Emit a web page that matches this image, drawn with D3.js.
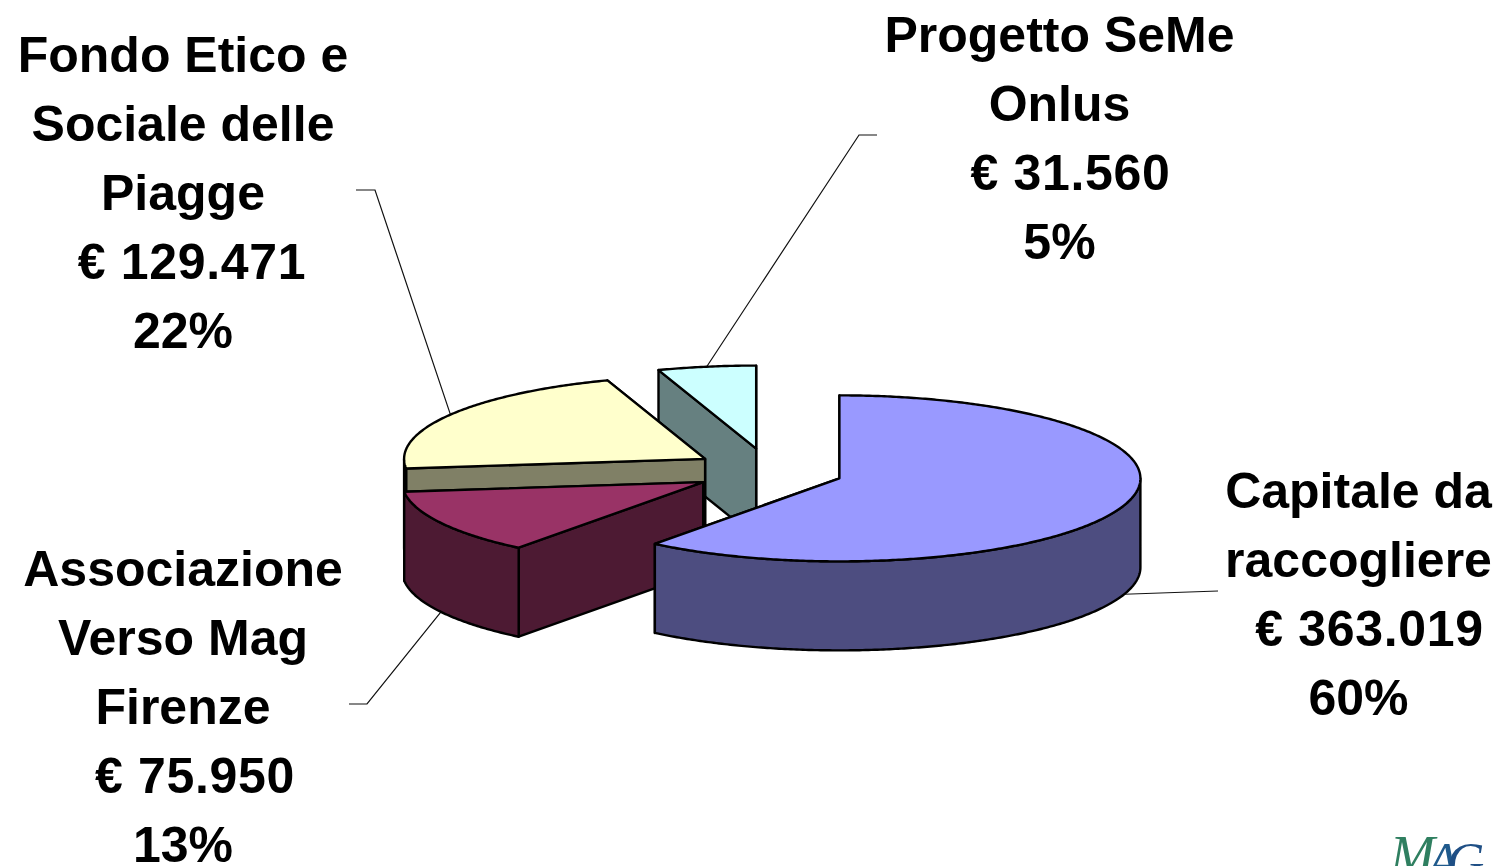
<!DOCTYPE html>
<html>
<head>
<meta charset="utf-8">
<script src="https://cdnjs.cloudflare.com/ajax/libs/d3/7.8.5/d3.min.js"></script>
<style>
html,body{margin:0;padding:0;background:#fff;overflow:hidden}
svg{display:block}
text{font-family:"Liberation Sans",Arial,sans-serif;font-weight:700;font-size:50px;fill:#000}
</style>
</head>
<body>
<svg id="chart" width="1500" height="866"></svg>
<script>
// ---- data ----
const names = [
  ["Capitale da", "raccogliere"],
  ["Associazione", "Verso Mag", "Firenze"],
  ["Fondo Etico e", "Sociale delle", "Piagge"],
  ["Progetto SeMe", "Onlus"]
];
const amounts = [363019, 75950, 129471, 31560];
const percentLabels = ["60%", "13%", "22%", "5%"];
const topColors = ["#9999FF", "#993366", "#FFFFCC", "#CCFFFF"];
const sideColors = ["#4D4D80", "#4D1A33", "#808066", "#668080"];

// ---- layout ----
const W = 1500, H = 866;
const center = {x: 768.5, y: 471}, rx = 301, ry = 83, depth = 89, explode = 0.249, explodeYBoost = 1.1;
const labelPos = [
  {x: 1358.5, y: 508, euroDx: 11, elbow: [1218, 591], end: null},
  {x: 183, y: 586, euroDx: 12, elbow: [367, 704], end: [349, 704]},
  {x: 183, y: 72, euroDx: 9, elbow: [375, 190], end: [356, 190]},
  {x: 1059.5, y: 52, euroDx: 11, elbow: [859, 135], end: [877, 135]}
];
const lineStep = 69.1;

const svg = d3.select("#chart");
const sx = d3.scaleLinear().domain([-1, 1]).range([center.x - rx, center.x + rx]);
const sy = d3.scaleLinear().domain([-1, 1]).range([center.y + ry, center.y - ry]);
const euro = d3.formatLocale({decimal: ",", thousands: ".", grouping: [3], currency: ["€ ", ""]}).format("$,.0f");
const line = d3.line();
const arcs = d3.pie().sort(null).value(d => d)(amounts);

// Project a point on the unit pie (radius r, clockwise angle a) for a slice's explode offset
function proj(s, a, r, drop) {
  const mid = (s.startAngle + s.endAngle) / 2;
  const ux = explode * Math.sin(mid) + r * Math.sin(a);
  const uy = explode * explodeYBoost * Math.cos(mid) + r * Math.cos(a);
  return [sx(ux), sy(uy) + (drop || 0)];
}
function arcPts(s, a0, a1, drop) {
  const n = Math.max(2, Math.ceil((a1 - a0) / 0.01));
  return d3.range(n + 1).map(i => proj(s, a0 + (a1 - a0) * i / n, 1, drop));
}
function face(s, a) {
  return line([proj(s, 0, 0), proj(s, a, 1), proj(s, a, 1, depth), proj(s, 0, 0, depth)]) + "Z";
}

// leader lines first, behind the pie
const leaders = svg.append("g").attr("fill", "none").attr("stroke", "#111").attr("stroke-width", 1.2);
arcs.forEach((s, i) => {
  const mid = (s.startAngle + s.endAngle) / 2;
  const front = Math.cos(mid) < 0;
  const pts = [proj(s, mid, 1, front ? depth : 0), labelPos[i].elbow];
  if (labelPos[i].end) pts.push(labelPos[i].end);
  leaders.append("path").attr("d", line(pts));
});

// slices, back to front
const drawOrder = [3, 2, 1, 0];
const pie = svg.append("g").attr("stroke", "#000").attr("stroke-width", 2.4).attr("stroke-linejoin", "round");
drawOrder.forEach(i => {
  const s = arcs[i];
  const g = pie.append("g");
  g.append("path").attr("d", face(s, s.endAngle)).attr("fill", sideColors[i]);
  g.append("path").attr("d", face(s, s.startAngle)).attr("fill", sideColors[i]);
  const a0 = Math.max(s.startAngle, Math.PI / 2), a1 = Math.min(s.endAngle, 3 * Math.PI / 2);
  if (a1 > a0) {
    const upper = arcPts(s, a0, a1, 0), lower = arcPts(s, a0, a1, depth).reverse();
    g.append("path").attr("d", line(upper.concat(lower)) + "Z").attr("fill", sideColors[i]);
  }
  const top = [proj(s, 0, 0)].concat(arcPts(s, s.startAngle, s.endAngle, 0));
  g.append("path").attr("d", line(top) + "Z").attr("fill", topColors[i]);
});

// labels
arcs.forEach((s, i) => {
  const p = labelPos[i];
  const lines = names[i].map(t => ({t, dx: 0, ls: 0}))
    .concat([{t: euro(amounts[i]), dx: p.euroDx, ls: 0.7}, {t: percentLabels[i], dx: 0, ls: 0}]);
  const t = svg.append("text").attr("text-anchor", "middle");
  lines.forEach((l, k) => {
    t.append("tspan").attr("x", p.x + l.dx).attr("y", p.y + k * lineStep)
      .style("letter-spacing", l.ls + "px").text(l.t);
  });
});

// logo, cropped by the bottom edge as in the reference
const logo = svg.append("text").attr("x", 1390).attr("y", 873)
  .style("font-family", "'Liberation Serif',serif").style("font-style", "italic")
  .style("font-weight", 400).style("font-size", "54px");
logo.append("tspan").style("fill", "#2F7F60").text("M");
logo.append("tspan").attr("dx", -8).attr("dy", 6).style("fill", "#1F5A8C").style("font-size", "52px").text("A");
logo.append("tspan").attr("dx", -12).style("fill", "#1F4F85").style("font-size", "52px").text("G");
</script>
</body>
</html>
